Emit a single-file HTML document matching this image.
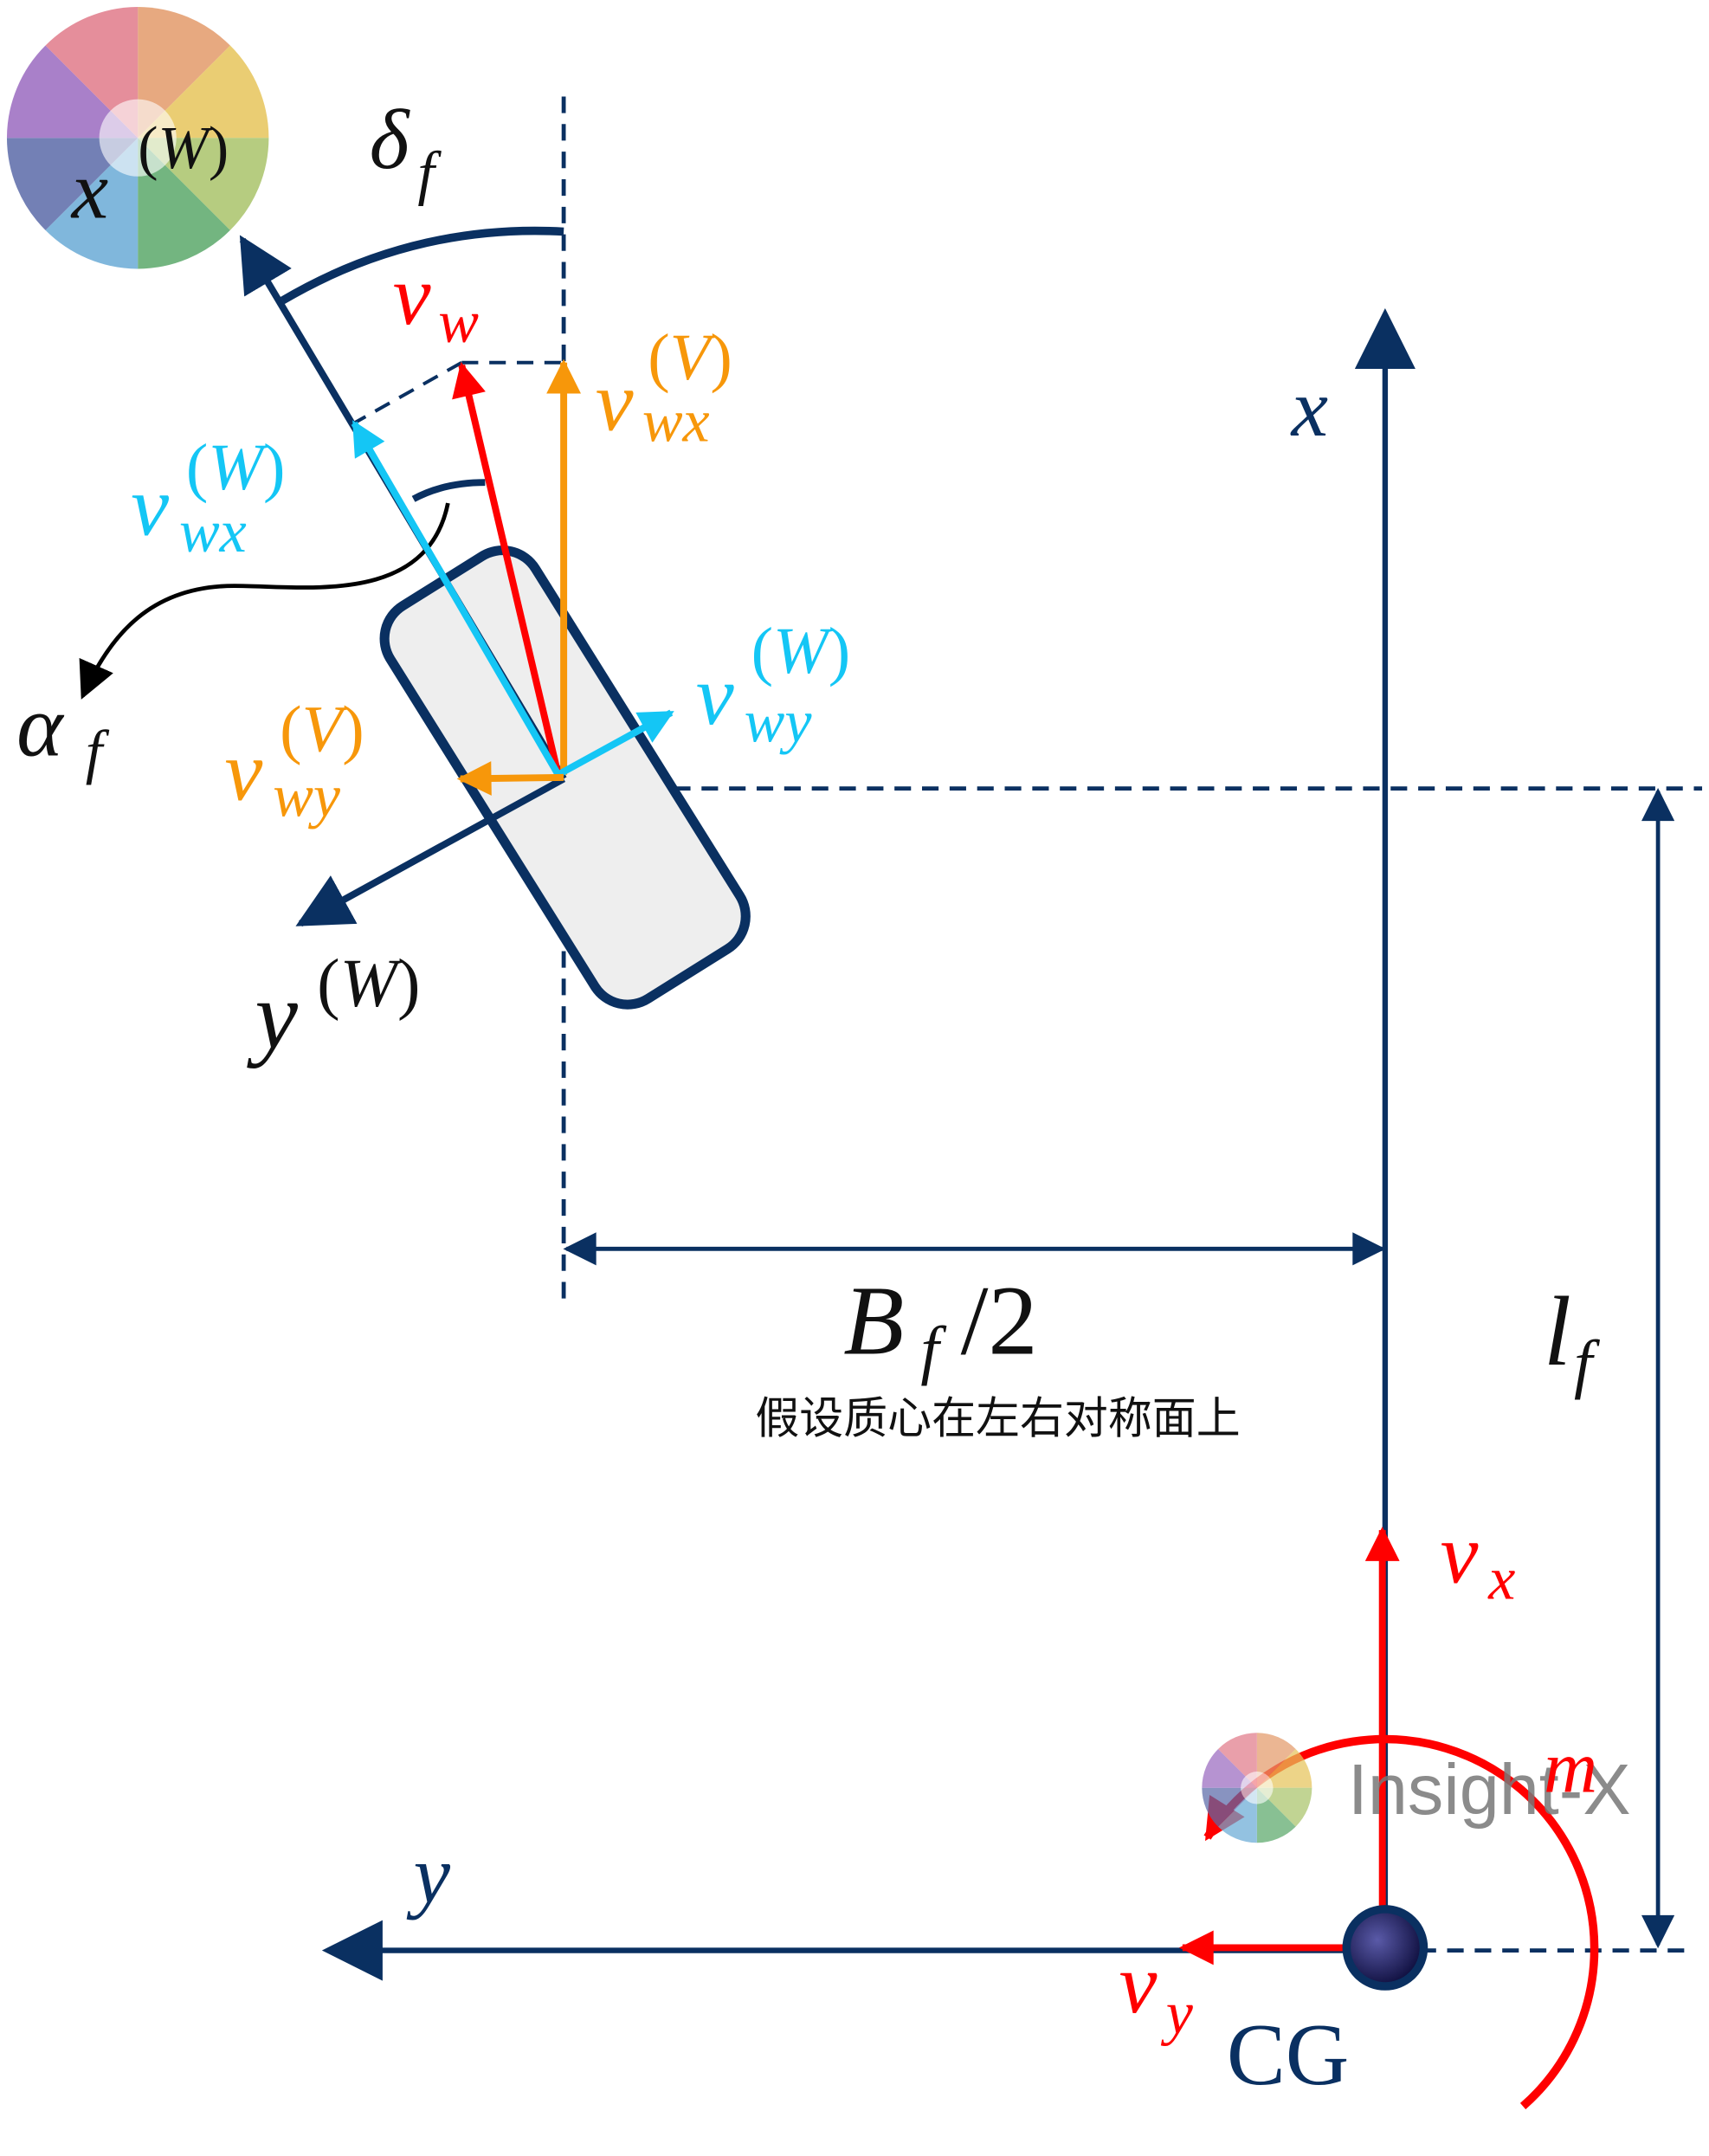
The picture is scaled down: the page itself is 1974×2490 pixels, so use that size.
<!DOCTYPE html>
<html><head><meta charset="utf-8">
<style>
html,body{margin:0;padding:0;background:#fff;}
svg{display:block;}
.m{font-family:"Liberation Serif",serif;font-style:italic;}
.u{font-family:"Liberation Serif",serif;}
</style></head>
<body>
<svg width="1974" height="2490" viewBox="0 0 1240 1564.1" xmlns="http://www.w3.org/2000/svg">
<defs>
<marker id="an" viewBox="0 0 10 10" refX="9" refY="5" markerWidth="8" markerHeight="8" orient="auto" markerUnits="strokeWidth"><path d="M0,0 L10,5 L0,10 z" fill="#0a3061"/></marker>
<marker id="anx" viewBox="0 0 10 10" refX="9" refY="5" markerWidth="11" markerHeight="11" orient="auto" markerUnits="strokeWidth"><path d="M0,0 L10,5 L0,10 z" fill="#0a3061"/></marker>
<marker id="anb" viewBox="0 0 10 10" refX="9" refY="5" markerWidth="10" markerHeight="8" orient="auto-start-reverse" markerUnits="strokeWidth"><path d="M0,0 L10,5 L0,10 z" fill="#0a3061"/></marker>
<marker id="ar" viewBox="0 0 10 10" refX="9" refY="5" markerWidth="5.5" markerHeight="5" orient="auto" markerUnits="strokeWidth"><path d="M0,0 L10,5 L0,10 z" fill="#f00"/></marker>
<marker id="ao" viewBox="0 0 10 10" refX="9" refY="5" markerWidth="5.5" markerHeight="5" orient="auto" markerUnits="strokeWidth"><path d="M0,0 L10,5 L0,10 z" fill="#f7970a"/></marker>
<marker id="ac" viewBox="0 0 10 10" refX="9" refY="5" markerWidth="5.5" markerHeight="5" orient="auto" markerUnits="strokeWidth"><path d="M0,0 L10,5 L0,10 z" fill="#14c6f5"/></marker>
<marker id="ak" viewBox="0 0 10 10" refX="9" refY="5" markerWidth="9" markerHeight="9" orient="auto" markerUnits="strokeWidth"><path d="M0,0 L10,5 L0,10 z" fill="#000"/></marker>
<radialGradient id="cg" cx="0.4" cy="0.4" r="0.6"><stop offset="0" stop-color="#5a5aa8"/><stop offset="1" stop-color="#101040"/></radialGradient>
<g id="logo">
<path d="M0,0 L0,-95 A95,95 0 0 1 67,-67 z" fill="#e39a6a" opacity=".85"/>
<path d="M0,0 L67,-67 A95,95 0 0 1 95,0 z" fill="#e6c45a" opacity=".85"/>
<path d="M0,0 L95,0 A95,95 0 0 1 67,67 z" fill="#a9c36a" opacity=".85"/>
<path d="M0,0 L67,67 A95,95 0 0 1 0,95 z" fill="#5aa86a" opacity=".85"/>
<path d="M0,0 L0,95 A95,95 0 0 1 -67,67 z" fill="#6aaad6" opacity=".85"/>
<path d="M0,0 L-67,67 A95,95 0 0 1 -95,0 z" fill="#5a6aa8" opacity=".85"/>
<path d="M0,0 L-95,0 A95,95 0 0 1 -67,-67 z" fill="#9a6ac0" opacity=".85"/>
<path d="M0,0 L-67,-67 A95,95 0 0 1 0,-95 z" fill="#e07a8a" opacity=".85"/>
<circle r="28" fill="#fff" opacity=".6"/>
</g>
</defs>

<use href="#logo" x="100" y="100"/>
<text x="52" y="158" class="m" font-size="60" fill="#111">x</text>
<text x="100" y="122" class="u" font-size="44" fill="#111">(<tspan class="m">W</tspan>)</text>

<g stroke="#0a3061" stroke-width="3" stroke-dasharray="12,8" fill="none">
<line x1="409" y1="70" x2="409" y2="945"/>
<line x1="409" y1="572" x2="1235" y2="572"/>
<line x1="1030" y1="1415" x2="1230" y2="1415"/>
<line x1="335" y1="263" x2="409" y2="263" stroke-width="2.5"/>
<line x1="335" y1="263" x2="255" y2="308" stroke-width="2.5"/>
</g>

<rect x="348" y="396" width="124" height="336" rx="28" transform="rotate(-32 410 564)" fill="#eeeeee" stroke="#0a3061" stroke-width="7"/>

<line x1="409" y1="565" x2="176" y2="174" stroke="#0a3061" stroke-width="5" marker-end="url(#an)"/>
<line x1="409" y1="565" x2="218" y2="670" stroke="#0a3061" stroke-width="5" marker-end="url(#an)"/>
<path d="M205,218 Q300,162 409,168" stroke="#0a3061" stroke-width="6" fill="none"/>
<path d="M300,362 Q322,350 352,350" stroke="#0a3061" stroke-width="5" fill="none"/>
<path d="M325,365 C310,440 220,425 170,425 C110,425 80,460 60,505" stroke="#000" stroke-width="3" fill="none" marker-end="url(#ak)"/>

<line x1="409" y1="562" x2="409" y2="263" stroke="#f7970a" stroke-width="5" marker-end="url(#ao)"/>
<line x1="405" y1="562" x2="335" y2="265" stroke="#f00" stroke-width="5" marker-end="url(#ar)"/>
<line x1="405" y1="562" x2="257" y2="307" stroke="#14c6f5" stroke-width="5" marker-end="url(#ac)"/>
<line x1="405" y1="562" x2="487" y2="517" stroke="#14c6f5" stroke-width="5" marker-end="url(#ac)"/>
<line x1="409" y1="564" x2="334" y2="565" stroke="#f7970a" stroke-width="5" marker-end="url(#ao)"/>

<line x1="1005" y1="1413" x2="1005" y2="228" stroke="#0a3061" stroke-width="4" marker-end="url(#anx)"/>
<line x1="1005" y1="1415" x2="238" y2="1415" stroke="#0a3061" stroke-width="4" marker-end="url(#anx)"/>
<line x1="1203" y1="574" x2="1203" y2="1411" stroke="#0a3061" stroke-width="3" marker-start="url(#anb)" marker-end="url(#anb)"/>
<line x1="411" y1="906" x2="1003" y2="906" stroke="#0a3061" stroke-width="3" marker-start="url(#anb)" marker-end="url(#anb)"/>

<line x1="1003" y1="1385" x2="1003" y2="1110" stroke="#f00" stroke-width="5" marker-end="url(#ar)"/>
<line x1="1003" y1="1413" x2="858" y2="1413" stroke="#f00" stroke-width="5" marker-end="url(#ar)"/>
<path d="M1105,1528 A152,152 0 1 0 876,1333" stroke="#f00" stroke-width="6" fill="none" marker-end="url(#ar)"/>

<circle cx="1005" cy="1413" r="28" fill="url(#cg)" stroke="#0a3061" stroke-width="6"/>

<g transform="translate(912,1297) scale(0.42)" opacity="0.85"><use href="#logo"/></g>
<text x="978" y="1316" font-family="Liberation Sans,sans-serif" font-size="52" fill="#777" opacity="0.85">Insight-X</text>

<text x="268" y="122" class="m" font-size="62" fill="#111">δ</text>
<text x="303" y="140" class="m" font-size="44" fill="#111">f</text>
<text x="285" y="235" class="m" font-size="62" fill="#f00">v</text>
<text x="318" y="248" class="m" font-size="44" fill="#f00">w</text>
<text x="432" y="312" class="m" font-size="62" fill="#f7970a">v</text>
<text x="466" y="320" class="m" font-size="44" fill="#f7970a">wx</text>
<text x="470" y="275" class="u" font-size="48" fill="#f7970a">(<tspan class="m">V</tspan>)</text>
<text x="95" y="388" class="m" font-size="62" fill="#14c6f5">v</text>
<text x="130" y="400" class="m" font-size="44" fill="#14c6f5">wx</text>
<text x="135" y="355" class="u" font-size="48" fill="#14c6f5">(<tspan class="m">W</tspan>)</text>
<text x="505" y="525" class="m" font-size="62" fill="#14c6f5">v</text>
<text x="540" y="538" class="m" font-size="44" fill="#14c6f5">wy</text>
<text x="545" y="488" class="u" font-size="48" fill="#14c6f5">(<tspan class="m">W</tspan>)</text>
<text x="163" y="580" class="m" font-size="62" fill="#f7970a">v</text>
<text x="198" y="592" class="m" font-size="44" fill="#f7970a">wy</text>
<text x="203" y="545" class="u" font-size="48" fill="#f7970a">(<tspan class="m">V</tspan>)</text>
<text x="12" y="548" class="m" font-size="64" fill="#111">α</text>
<text x="62" y="560" class="m" font-size="44" fill="#111">f</text>
<text x="185" y="760" class="m" font-size="70" fill="#111">y</text>
<text x="230" y="730" class="u" font-size="50" fill="#111">(<tspan class="m">W</tspan>)</text>
<text x="937" y="316" class="m" font-size="60" fill="#0a3061">x</text>
<text x="300" y="1380" class="m" font-size="60" fill="#0a3061">y</text>
<text x="612" y="982" class="m" font-size="72" fill="#111">B</text>
<text x="668" y="995" class="m" font-size="48" fill="#111">f</text>
<text x="697" y="982" class="u" font-size="72" fill="#111">/2</text>
<text x="548" y="1040" font-family="Liberation Sans,'Noto Sans CJK SC',sans-serif" font-size="32" fill="#111">假设质心在左右对称面上</text>
<text x="1120" y="990" class="m" font-size="72" fill="#111">l</text>
<text x="1142" y="1005" class="m" font-size="48" fill="#111">f</text>
<text x="1045" y="1148" class="m" font-size="62" fill="#f00">v</text>
<text x="1080" y="1160" class="m" font-size="44" fill="#f00">x</text>
<text x="1120" y="1300" class="m" font-size="54" fill="#f00">m</text>
<text x="812" y="1460" class="m" font-size="62" fill="#f00">v</text>
<text x="846" y="1475" class="m" font-size="44" fill="#f00">y</text>
<text x="890" y="1512" class="u" font-size="64" fill="#0a3061">CG</text>
</svg>
</body></html>
